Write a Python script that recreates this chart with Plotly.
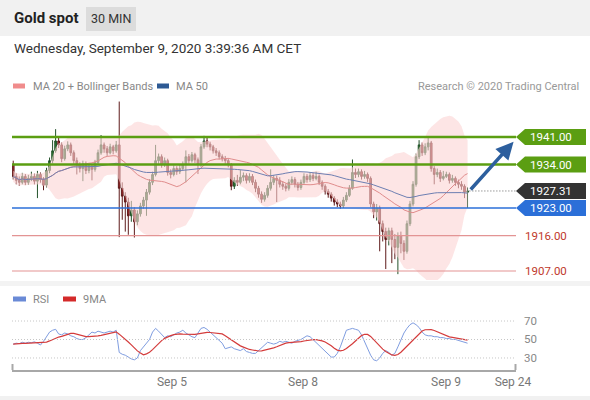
import pandas as pd
import plotly.graph_objects as go

W, H = 590, 400
L, R, T, B = 12, 74, 100, 30

# 30-min candles
closes = [
    1931.0, 1930.0, 1929.5, 1931.0, 1929.5, 1930.5, 1931.0, 1929.8, 1931.5, 1930.2,
    1928.8, 1932.5, 1935.0, 1937.5, 1940.0, 1939.0, 1935.5, 1938.0, 1939.0, 1937.0,
    1935.0, 1934.0, 1933.0, 1934.2, 1932.5, 1933.5, 1932.8, 1934.5, 1937.0, 1939.0,
    1938.0, 1937.0, 1938.5, 1937.5, 1939.0, 1928.0, 1926.0, 1924.5, 1921.0, 1922.5,
    1919.5, 1921.5, 1923.5, 1925.0, 1927.0, 1929.5, 1931.5, 1935.0, 1936.0, 1934.0,
    1935.0, 1932.0, 1931.5, 1933.0, 1932.2, 1933.0, 1934.0, 1936.0, 1935.0, 1936.5,
    1935.2, 1934.0, 1938.5, 1940.0, 1939.2, 1938.5, 1937.5, 1937.0, 1936.0, 1935.5,
    1935.0, 1934.0, 1928.5, 1930.0, 1929.5, 1930.8, 1931.2, 1930.0, 1931.0, 1929.5,
    1928.0, 1926.5, 1925.2, 1926.2, 1928.0, 1929.5, 1930.5, 1930.0, 1929.0, 1928.5,
    1928.0, 1929.5, 1930.2, 1929.0, 1928.2, 1929.5, 1931.0, 1930.2, 1931.2, 1930.5,
    1931.0, 1929.5, 1928.5, 1927.2, 1926.5, 1925.5, 1924.5, 1924.0, 1923.5, 1925.0,
    1926.2, 1928.0, 1932.0, 1931.5, 1932.2, 1931.0, 1931.5, 1930.5, 1924.0, 1922.0,
    1923.0, 1919.0, 1917.0, 1915.0, 1917.2, 1915.0, 1913.0, 1916.0, 1914.0, 1912.0,
    1919.0, 1924.0, 1929.0, 1936.0, 1939.0, 1937.0, 1938.5, 1939.5, 1933.0, 1931.5,
    1932.0, 1930.5, 1931.0, 1931.5, 1930.0, 1930.5, 1929.5, 1929.0, 1928.5, 1927.0, 1927.31,
]
highs = [
    1935.0, 1931.8, 1931.0, 1931.9, 1931.6, 1931.4, 1932.2, 1931.7, 1932.4, 1932.0,
    1930.8, 1933.2, 1935.8, 1940.2, 1943.0, 1940.8, 1939.6, 1938.8, 1939.9, 1939.6,
    1937.6, 1935.8, 1934.6, 1935.0, 1934.8, 1934.3, 1934.0, 1935.2, 1937.8, 1941.5,
    1939.6, 1938.7, 1939.3, 1939.0, 1940.0, 1950.0, 1929.5, 1927.0, 1925.6, 1924.8,
    1923.2, 1922.4, 1924.3, 1925.8, 1927.8, 1930.3, 1932.2, 1939.0, 1936.8, 1936.6,
    1935.8, 1935.5, 1932.8, 1933.8, 1933.6, 1933.9, 1934.8, 1937.6, 1936.7, 1937.2,
    1937.0, 1935.8, 1939.2, 1941.3, 1940.8, 1939.8, 1939.0, 1938.2, 1937.6, 1936.6,
    1936.2, 1935.6, 1934.4, 1930.8, 1931.4, 1932.6, 1932.0, 1931.8, 1931.8, 1931.6,
    1930.2, 1928.6, 1927.2, 1927.0, 1928.8, 1932.8, 1931.3, 1931.2, 1930.8, 1929.8,
    1929.2, 1930.3, 1931.0, 1930.8, 1929.6, 1930.2, 1931.8, 1931.6, 1932.0, 1931.9,
    1932.2, 1931.5, 1930.0, 1929.0, 1927.8, 1927.0, 1926.0, 1925.2, 1924.6, 1925.8,
    1927.0, 1928.8, 1935.3, 1933.0, 1933.0, 1932.8, 1932.4, 1932.0, 1931.0, 1924.6,
    1924.0, 1923.6, 1919.8, 1918.0, 1918.0, 1918.0, 1916.4, 1916.8, 1917.0, 1914.8,
    1919.8, 1924.8, 1929.8, 1936.8, 1940.2, 1939.6, 1939.4, 1941.0, 1940.0, 1933.6,
    1933.0, 1932.6, 1932.4, 1932.2, 1932.0, 1931.4, 1931.0, 1930.2, 1929.8, 1929.0, 1928.2,
]
lows = [
    1930.2, 1929.0, 1928.6, 1929.0, 1928.8, 1928.9, 1929.8, 1929.0, 1925.5, 1929.4,
    1927.5, 1928.2, 1931.8, 1934.3, 1937.0, 1938.2, 1934.6, 1935.0, 1937.4, 1936.2,
    1934.2, 1931.5, 1932.0, 1929.8, 1931.6, 1931.8, 1930.0, 1932.2, 1934.0, 1936.5,
    1937.0, 1936.2, 1936.6, 1936.6, 1937.0, 1915.6, 1920.0, 1917.0, 1916.2, 1919.5,
    1915.5, 1918.6, 1920.8, 1922.8, 1921.0, 1926.4, 1928.8, 1931.0, 1934.2, 1933.2,
    1933.4, 1931.2, 1930.5, 1931.0, 1931.4, 1931.6, 1932.4, 1929.5, 1934.2, 1934.5,
    1934.4, 1931.6, 1933.4, 1938.0, 1938.4, 1937.6, 1936.8, 1936.2, 1935.3, 1934.8,
    1934.2, 1933.3, 1927.5, 1927.8, 1928.6, 1929.0, 1929.8, 1929.2, 1929.4, 1928.8,
    1927.0, 1925.6, 1924.3, 1924.6, 1925.6, 1927.4, 1928.8, 1924.5, 1928.2, 1927.6,
    1927.2, 1927.4, 1928.8, 1928.2, 1927.4, 1927.6, 1929.0, 1929.4, 1929.6, 1929.8,
    1930.0, 1928.8, 1927.6, 1926.4, 1925.6, 1924.6, 1923.6, 1923.2, 1922.8, 1923.0,
    1924.5, 1925.8, 1927.6, 1930.6, 1930.8, 1930.2, 1930.4, 1929.6, 1923.2, 1920.4,
    1919.8, 1912.0, 1914.5, 1907.5, 1913.5, 1909.0, 1910.0, 1906.2, 1911.5, 1909.8,
    1911.4, 1918.4, 1923.4, 1928.4, 1935.4, 1936.2, 1936.4, 1937.6, 1932.2, 1929.0,
    1930.8, 1929.6, 1930.0, 1930.6, 1929.2, 1929.4, 1928.6, 1928.0, 1927.6, 1925.5, 1923.0,
]
first_open = 1934.0
opens = [first_open] + closes[:-1]

rsi = [
    45, 46, 45.5, 47, 46, 47, 46.5, 47.5, 46, 44,
    48, 53, 58, 60, 61, 56, 55, 57, 56, 54,
    53, 51, 50, 50, 52, 55, 58, 57, 59, 58,
    57, 58, 59, 58, 60, 36, 34, 33, 31, 29,
    28, 30, 38, 42, 45, 50, 58, 62, 59, 55,
    52, 54, 53, 55, 57, 58, 60, 57, 55, 53,
    52, 57, 62, 63, 61, 58, 55, 52, 50, 46,
    40, 41, 42, 40, 39, 38, 40, 37, 36, 35,
    35, 38, 42, 45, 47, 46, 45, 46, 48, 47,
    48, 47, 46, 48, 49, 50, 52, 54, 53, 50,
    46, 43, 40, 37, 34, 31, 31, 35, 42, 52,
    60, 61, 62, 61, 60, 55, 48, 40, 33, 28,
    27, 30, 35, 38, 36, 33, 35, 42, 50, 57,
    62, 66, 68, 66, 63, 58, 55, 54, 54, 53,
    53, 52, 52, 51, 51, 50, 50, 49, 48, 47, 46,
]

resistances = [1941.0, 1934.0]
pivot = 1923.0
supports = [1916.0, 1907.0]
last_price = 1927.31
rsi_levels = [30, 50, 70]

tick_pos = [52.4, 95.7, 142.9, 165.0]
tick_text = ['Sep 5', 'Sep 8', 'Sep 9', 'Sep 24']

COLORS = {
    'green': '#5b9e12',
    'blue': '#2b6fd8',
    'red_line': '#e39494',
    'red_text': '#c0392b',
    'dark': '#333333',
    'arrow': '#2d5f9e',
    'ma20': '#e08c8c',
    'ma50': '#6d7fb2',
    'band': 'rgba(252, 212, 212, 0.6)',
    'rsi': '#7f9de0',
    'rsi_ma': '#d43c3c',
    'text': '#888888',
}
FONT = 'Roboto, Arial, sans-serif'

x = list(range(len(closes)))
s = pd.Series(closes)
ma20 = s.rolling(20, min_periods=1).mean()
sd20 = s.rolling(20, min_periods=2).std().bfill()
upper = ma20 + 2 * sd20
lower = ma20 - 2 * sd20
ma50 = s.rolling(50, min_periods=1).mean()
rsi_ma = pd.Series(rsi).rolling(9, min_periods=1).mean()


def px(xp):
    return (xp - L) / (W - L - R)


def py(yp):
    return (H - B - yp) / (H - T - B)


fig = go.Figure()

# Bollinger band
fig.add_trace(go.Scatter(x=x, y=upper, mode='lines', line=dict(width=0),
                         hoverinfo='skip', showlegend=False))
fig.add_trace(go.Scatter(x=x, y=lower, mode='lines', line=dict(width=0),
                         fill='tonexty', fillcolor=COLORS['band'],
                         hoverinfo='skip', showlegend=False))

fig.add_trace(go.Candlestick(
    x=x, open=opens, high=highs, low=lows, close=closes,
    increasing=dict(line=dict(color='#23522a', width=1), fillcolor='#2f7d33'),
    decreasing=dict(line=dict(color='#5e1a1a', width=1), fillcolor='#a82c2c'),
    whiskerwidth=0, showlegend=False, hoverinfo='skip'))

fig.add_trace(go.Scatter(x=x, y=ma20, mode='lines',
                         line=dict(color=COLORS['ma20'], width=1), showlegend=False))
fig.add_trace(go.Scatter(x=x, y=ma50, mode='lines',
                         line=dict(color=COLORS['ma50'], width=1), showlegend=False))

# RSI panel
fig.add_trace(go.Scatter(x=x, y=rsi, mode='lines', yaxis='y2',
                         line=dict(color=COLORS['rsi'], width=1), showlegend=False))
fig.add_trace(go.Scatter(x=x, y=rsi_ma, mode='lines', yaxis='y2',
                         line=dict(color=COLORS['rsi_ma'], width=1.2), showlegend=False))

shapes = []
ann = []

# page decoration
shapes.append(dict(type='rect', xref='paper', yref='paper', x0=px(0), x1=px(590),
                   y0=py(0), y1=py(36), fillcolor='#f1f1f1', line_width=0, layer='below'))
shapes.append(dict(type='rect', xref='paper', yref='paper', x0=px(0), x1=px(590),
                   y0=py(281), y1=py(286), fillcolor='#f3f3f3', line_width=0, layer='below'))
shapes.append(dict(type='rect', xref='paper', yref='paper', x0=px(0), x1=px(590),
                   y0=py(396), y1=py(400), fillcolor='#f1f1f1', line_width=0, layer='below'))
shapes.append(dict(type='rect', xref='paper', yref='paper', x0=px(86), x1=px(136),
                   y0=py(7), y1=py(31), fillcolor='#dcdcdc', line_width=0, layer='below'))

# legend swatches
for x0, x1, yy, col in [(13, 25, 86, '#f08c8c'), (157, 169, 86, '#2d5a94'),
                        (13, 26, 299, '#6a8ad6'), (63, 76, 299, '#d42a2a')]:
    shapes.append(dict(type='rect', xref='paper', yref='paper', x0=px(x0), x1=px(x1),
                       y0=py(yy - 2.5), y1=py(yy + 2.5), fillcolor=col, line_width=0))

# level lines
for lv in resistances:
    shapes.append(dict(type='line', xref='paper', yref='y', x0=0, x1=1, y0=lv, y1=lv,
                       line=dict(color=COLORS['green'], width=2.5)))
shapes.append(dict(type='line', xref='paper', yref='y', x0=0, x1=1, y0=pivot, y1=pivot,
                   line=dict(color=COLORS['blue'], width=1.5)))
for lv in supports:
    shapes.append(dict(type='line', xref='paper', yref='y', x0=0, x1=1, y0=lv, y1=lv,
                       line=dict(color=COLORS['red_line'], width=1.2)))
shapes.append(dict(type='line', xref='x', yref='y', x0=x[-1] + 0.6, x1=166, y0=last_price,
                   y1=last_price, line=dict(color='#666666', width=1, dash='1px,2px')))

# price tags on the right
for lv, col in [(resistances[0], COLORS['green']), (resistances[1], COLORS['green']),
                (last_price, COLORS['dark']), (pivot, COLORS['blue'])]:
    shapes.append(dict(type='path', xref='paper', yref='y', xsizemode='pixel', ysizemode='pixel',
                       xanchor=1, yanchor=lv, path='M 0 0 L 9 8 L 70 8 L 70 -8 L 9 -8 Z',
                       fillcolor=col, line_width=0))
    ann.append(dict(x=px(551), y=lv, xref='paper', yref='y', text=f'{lv:.2f}', showarrow=False,
                    font=dict(color='white', size=11.5, family=FONT), xanchor='center'))
for lv in supports:
    ann.append(dict(x=px(546), y=lv, xref='paper', yref='y', text=f'{lv:.2f}', showarrow=False,
                    font=dict(color=COLORS['red_text'], size=11.5, family=FONT), xanchor='center'))

# RSI dotted levels
for lv in rsi_levels:
    shapes.append(dict(type='line', xref='paper', yref='y2', x0=0, x1=1, y0=lv, y1=lv,
                       line=dict(color='#c6c6c6', width=1, dash='1px,2px')))
    ann.append(dict(x=px(530), y=lv, xref='paper', yref='y2', text=str(lv), showarrow=False,
                    font=dict(color=COLORS['text'], size=11.5, family=FONT), xanchor='center'))

# axis end ticks
for xe in (12.5, 515.5):
    shapes.append(dict(type='line', xref='paper', yref='paper', x0=px(xe), x1=px(xe),
                       y0=py(370), y1=py(364), line=dict(color='#a8a8a8', width=2)))

# forecast arrow
ann.append(dict(x=165.2, y=1939.8, ax=150.6, ay=1927.3, xref='x', yref='y', axref='x', ayref='y',
                showarrow=True, arrowhead=2, arrowsize=1, arrowwidth=3.5,
                arrowcolor=COLORS['arrow'], text=''))

# header texts
ann += [
    dict(x=px(12), y=py(18), text='<b>Gold spot</b>', font=dict(size=15, color='#222222')),
    dict(x=px(111), y=py(19), text='30 MIN', xanchor='center', font=dict(size=12.5, color='#333333')),
    dict(x=px(12), y=py(48), text='Wednesday, September 9, 2020 3:39:36 AM CET',
         font=dict(size=13.5, color='#333333')),
    dict(x=px(31), y=py(86), text='MA 20 + Bollinger Bands', font=dict(size=11, color=COLORS['text'])),
    dict(x=px(174), y=py(86), text='MA 50', font=dict(size=11, color=COLORS['text'])),
    dict(x=px(581), y=py(86), text='Research © 2020 Trading Central', xanchor='right',
         font=dict(size=11, color='#999999')),
    dict(x=px(31), y=py(299), text='RSI', font=dict(size=11, color=COLORS['text'])),
    dict(x=px(81), y=py(299), text='9MA', font=dict(size=11, color=COLORS['text'])),
]
for a in ann[-8:]:
    a.setdefault('xanchor', 'left')
    a.update(xref='paper', yref='paper', showarrow=False, yanchor='middle')
    a['font']['family'] = FONT

fig.update_layout(
    width=W, height=H,
    margin=dict(l=L, r=R, t=T, b=B),
    paper_bgcolor='white', plot_bgcolor='rgba(0,0,0,0)',
    shapes=shapes, annotations=ann,
    font=dict(family=FONT),
    boxgap=0.2,
    xaxis=dict(range=[-0.4, 166], anchor='y2', showgrid=False, zeroline=False,
               rangeslider=dict(visible=False), showline=True, linecolor='#a8a8a8', linewidth=2,
               tickvals=tick_pos, ticktext=tick_text, ticks='',
               tickfont=dict(size=12, color='#777777', family=FONT)),
    yaxis=dict(domain=[py(280), 1], range=[1904.72, 1950.39], visible=False),
    yaxis2=dict(domain=[0, py(305)], range=[17, 87.3], visible=False),
)

# drop the default page margin so the figure sits at the window origin
fig.write_html("out.html", config={'displayModeBar': False},
               post_script="document.body.style.margin='0';")
